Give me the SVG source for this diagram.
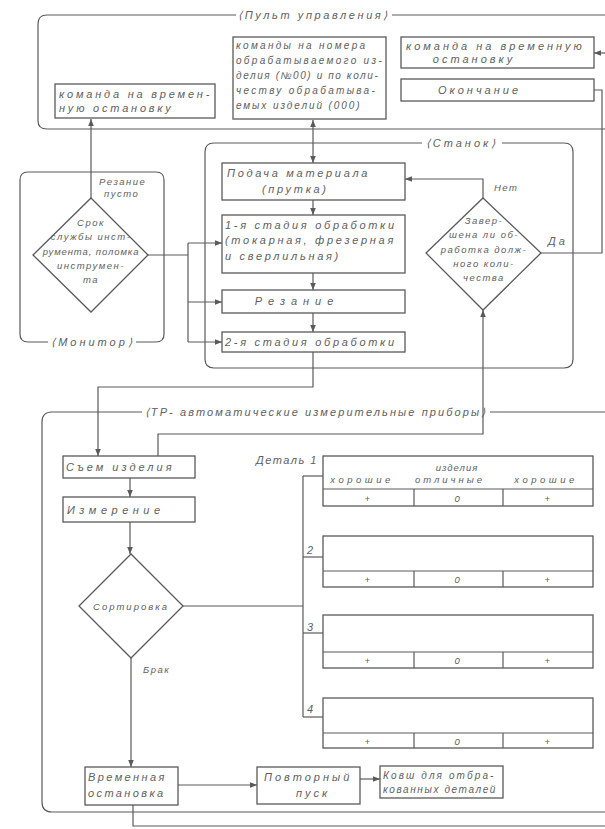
<svg xmlns="http://www.w3.org/2000/svg" width="605" height="829" viewBox="0 0 605 829">
<style>
.bg{fill:#fff}
.ln{fill:none;stroke:#5a5a5a;stroke-width:1.2}
.bx{fill:#fff;stroke:#5a5a5a;stroke-width:1.3}
.t{font-family:"Liberation Sans",Arial,sans-serif;font-style:italic;font-size:11px;fill:#606060;letter-spacing:3px}
.s{font-family:"Liberation Sans",Arial,sans-serif;font-style:italic;font-size:9.5px;fill:#606060;letter-spacing:1.5px}
.m{font-family:"Liberation Sans",Arial,sans-serif;font-style:italic;font-size:10px;fill:#606060;letter-spacing:2.3px}
.c{text-anchor:middle}
.st{letter-spacing:2.7px}
</style>
<defs>
<marker id="a" viewBox="0 0 10 10" refX="10" refY="5" markerWidth="7" markerHeight="7" markerUnits="userSpaceOnUse" orient="auto-start-reverse">
<path d="M0,1 L10,5 L0,9 z" fill="#5a5a5a"/>
</marker>
</defs>
<rect class="bg" x="0" y="0" width="605" height="829"/>

<g id="frames">
<g id="pult-frame">
<path class="ln" d="M236,15 H47 Q38,15 38,24 V121 Q38,129 47,129 H605"/>
<path class="ln" d="M392,15 H605"/>
<text class="t c" x="314" y="19" style="letter-spacing:2.6px">⟨Пульт управления⟩</text>
</g>
<g id="stanok-frame">
<path class="ln" d="M422,143 H214 Q205,143 205,152 V359 Q205,368 214,368 H564 Q573,368 573,359 V152 Q573,143 564,143 H502"/>
<text class="t c" x="462" y="147">⟨Станок⟩</text>
</g>
<g id="monitor-frame">
<path class="ln" d="M48,342 H28 Q20,342 20,334 V180 Q20,172 28,172 H156 Q164,172 164,180 V334 Q164,342 156,342 H136"/>
<text class="t c" x="93" y="346">⟨Монитор⟩</text>
<text class="s" x="99" y="185">Резание</text>
<text class="s" x="104" y="197">пусто</text>
</g>
<g id="tr-frame">
<path class="ln" d="M142,412 H52 Q42,412 42,422 V802 Q42,812 52,812 H605"/>
<path class="ln" d="M490,412 H605"/>
<text class="t c" x="316" y="416" style="letter-spacing:2.1px">⟨ТР- автоматические измерительные приборы⟩</text>
</g>
</g>

<g id="connectors">
<path class="ln" d="M91,198 V119" marker-end="url(#a)"/>
<path class="ln" d="M313,120 V163" marker-start="url(#a)" marker-end="url(#a)"/>
<path class="ln" d="M148,255 H188"/>
<path class="ln" d="M188,243 V342"/>
<path class="ln" d="M188,243 H222" marker-end="url(#a)"/>
<path class="ln" d="M188,302 H222" marker-end="url(#a)"/>
<path class="ln" d="M188,342 H222" marker-end="url(#a)"/>
<path class="ln" d="M313,200 V215" marker-end="url(#a)"/>
<path class="ln" d="M313,273 V290" marker-end="url(#a)"/>
<path class="ln" d="M313,313 V332" marker-end="url(#a)"/>
<path class="ln" d="M313,352 V387 H98 V456" marker-end="url(#a)"/>
<path class="ln" d="M483,198 V179 H405" marker-end="url(#a)"/>
<path class="ln" d="M541,253 H602 V90 H594"/>
<path class="ln" d="M605,53 H594" marker-end="url(#a)"/>
<path class="ln" d="M158,456 V434 H483 V310" marker-end="url(#a)"/>
<path class="ln" d="M130,478 V497" marker-end="url(#a)"/>
<path class="ln" d="M130,522 V554" marker-end="url(#a)"/>
<path class="ln" d="M183,606 H303"/>
<path class="ln" d="M303,476 V717"/>
<path class="ln" d="M303,476 H323"/>
<path class="ln" d="M303,557 H323"/>
<path class="ln" d="M303,633 H323"/>
<path class="ln" d="M303,717 H323"/>
<path class="ln" d="M131,658 V767" marker-end="url(#a)"/>
<path class="ln" d="M178,785 H257" marker-end="url(#a)"/>
<path class="ln" d="M360,779 H380" marker-end="url(#a)"/>
<path class="ln" d="M133,805 V826 H605"/>
<text class="s" x="494" y="191">Нет</text>
<text class="t" x="548" y="245">Да</text>
<text class="s" x="143" y="673">Брак</text>
</g>

<g id="cmd-stop-left">
<rect class="bx" x="55" y="84" width="160" height="34"/>
<text class="t" x="59" y="98" style="letter-spacing:2.8px">команда на времен-</text>
<text class="t" x="59" y="112" style="letter-spacing:2.8px">ную остановку</text>
</g>
<g id="cmd-numbers">
<rect class="bx" x="233" y="37" width="153" height="82"/>
<text class="m" x="236" y="49">команды на номера</text>
<text class="m" x="236" y="64">обрабатываемого из-</text>
<text class="m" x="236" y="79" style="letter-spacing:1.6px">делия (№00) и по коли-</text>
<text class="m" x="236" y="94">честву обрабатыва-</text>
<text class="m" x="236" y="109" style="letter-spacing:1.9px">емых изделий (000)</text>
</g>
<g id="cmd-stop-right">
<rect class="bx" x="401" y="37" width="193" height="31"/>
<text class="t" x="406" y="50">команда на временную</text>
<text class="t c" x="474" y="63">остановку</text>
</g>
<g id="end">
<rect class="bx" x="401" y="79" width="193" height="22"/>
<text class="t" x="438" y="94">Окончание</text>
</g>

<g id="feed">
<rect class="bx" x="222" y="163" width="183" height="37"/>
<text class="t st" x="227" y="177">Подача материала</text>
<text class="t st" x="262" y="193">(прутка)</text>
</g>
<g id="stage1">
<rect class="bx" x="222" y="215" width="183" height="58"/>
<text class="t st" x="225" y="229">1-я стадия обработки</text>
<text class="t st" x="225" y="244">(токарная, фрезерная</text>
<text class="t st" x="225" y="260">и сверлильная)</text>
</g>
<g id="cutting">
<rect class="bx" x="222" y="290" width="183" height="23"/>
<text class="t c" x="297" y="305" style="letter-spacing:6px">Резание</text>
</g>
<g id="stage2">
<rect class="bx" x="222" y="332" width="183" height="20"/>
<text class="t st" x="225" y="346">2-я стадия обработки</text>
</g>
<g id="done-check">
<polygon class="bx" points="483,198 541,253 483,310 426,253"/>
<text class="s c" x="484" y="224">Завер-</text>
<text class="s c" x="484" y="238">шена ли об-</text>
<text class="s c" x="484" y="253">работка долж-</text>
<text class="s c" x="484" y="267">ного коли-</text>
<text class="s c" x="484" y="281">чества</text>
</g>
<g id="tool-check">
<polygon class="bx" points="91,198 148,255 91,312 33,255"/>
<text class="s c" x="91" y="226">Срок</text>
<text class="s c" x="91" y="240">службы инст-</text>
<text class="s c" x="91" y="255" style="letter-spacing:0.9px">румента, поломка</text>
<text class="s c" x="91" y="269">инструмен-</text>
<text class="s c" x="91" y="283">та</text>
</g>

<g id="removal">
<rect class="bx" x="63" y="456" width="132" height="22"/>
<text class="t" x="66" y="471">Съем изделия</text>
</g>
<g id="measure">
<rect class="bx" x="63" y="497" width="132" height="25"/>
<text class="t" x="67" y="514" style="letter-spacing:4.5px">Измерение</text>
</g>
<g id="sorting">
<polygon class="bx" points="131,554 183,606 131,658 79,606"/>
<text class="s c" x="131" y="610" style="letter-spacing:2px">Сортировка</text>
</g>
<g id="temp-stop">
<rect class="bx" x="85" y="767" width="93" height="38"/>
<text class="t" x="88" y="781" style="letter-spacing:2.4px">Временная</text>
<text class="t" x="88" y="797" style="letter-spacing:2.4px">остановка</text>
</g>
<g id="restart">
<rect class="bx" x="257" y="767" width="103" height="37"/>
<text class="t" x="264" y="781">Повторный</text>
<text class="t" x="296" y="797">пуск</text>
</g>
<g id="bin">
<rect class="bx" x="380" y="766" width="123" height="32"/>
<text class="m" x="383" y="779" style="letter-spacing:2.1px">Ковш для отбра-</text>
<text class="m" x="383" y="793" style="letter-spacing:1.6px">кованных деталей</text>
</g>

<g id="part1">
<text class="t" x="256" y="464" style="letter-spacing:1.5px">Деталь 1</text>
<rect class="bx" x="323" y="456" width="270" height="50"/>
<path class="ln" d="M323,489 H593 M414,489 V506 M503,489 V506"/>
<text class="s c" x="457" y="471" style="letter-spacing:1px">изделия</text>
<text class="s c" x="362" y="483" style="letter-spacing:3.5px">хорошие</text>
<text class="s c" x="450" y="483" style="letter-spacing:3px">отличные</text>
<text class="s c" x="546" y="483" style="letter-spacing:3.5px">хорошие</text>
<text class="s c" x="368" y="502">+</text>
<text class="s c" x="458" y="502">0</text>
<text class="s c" x="548" y="502">+</text>
</g>
<g id="part2">
<text class="t" x="307" y="554">2</text>
<rect class="bx" x="323" y="536" width="270" height="51"/>
<path class="ln" d="M323,571 H593 M414,571 V587 M503,571 V587"/>
<text class="s c" x="368" y="583">+</text>
<text class="s c" x="458" y="583">0</text>
<text class="s c" x="548" y="583">+</text>
</g>
<g id="part3">
<text class="t" x="307" y="631">3</text>
<rect class="bx" x="323" y="615" width="270" height="53"/>
<path class="ln" d="M323,652 H593 M414,652 V668 M503,652 V668"/>
<text class="s c" x="368" y="664">+</text>
<text class="s c" x="458" y="664">0</text>
<text class="s c" x="548" y="664">+</text>
</g>
<g id="part4">
<text class="t" x="307" y="713">4</text>
<rect class="bx" x="323" y="698" width="270" height="50"/>
<path class="ln" d="M323,733 H593 M414,733 V748 M503,733 V748"/>
<text class="s c" x="368" y="745">+</text>
<text class="s c" x="458" y="745">0</text>
<text class="s c" x="548" y="745">+</text>
</g>
</svg>
